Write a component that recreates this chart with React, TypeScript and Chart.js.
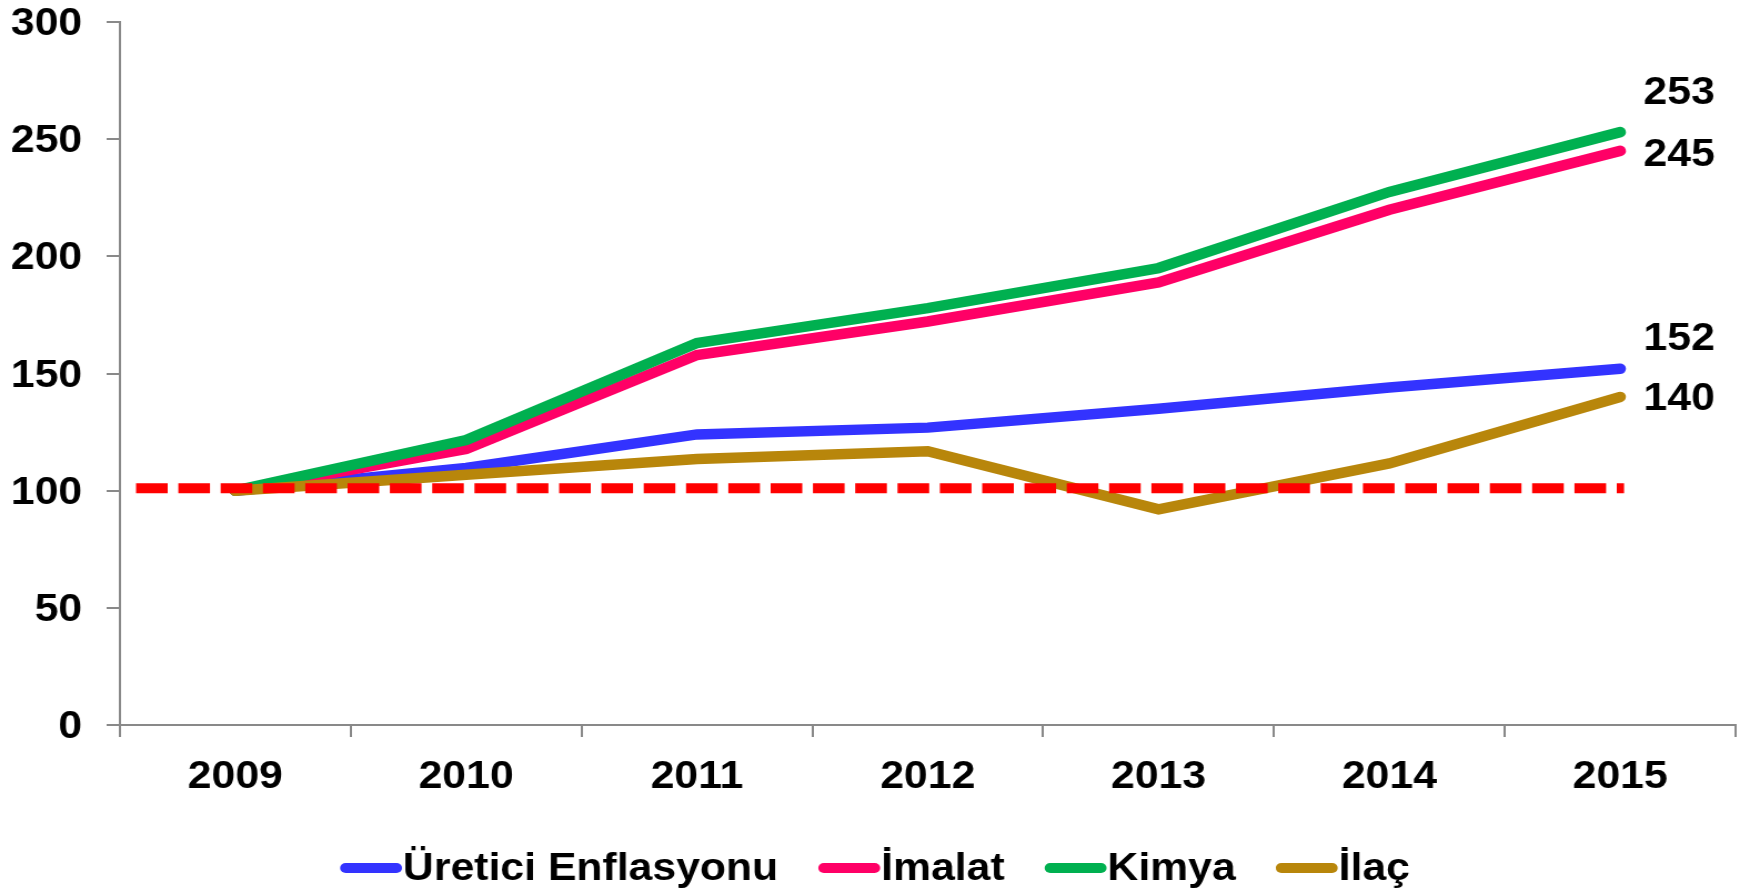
import React, { useEffect, useRef } from 'react';
import { Chart, registerables } from 'chart.js';

Chart.register(...registerables);

// ---- data ----
const years = ['2009', '2010', '2011', '2012', '2013', '2014', '2015'];
const ureticiEnflasyonu = [100, 109.7, 124, 126.9, 135, 144, 152];
const imalat = [100, 117.8, 157.9, 172.2, 188.9, 219.9, 245];
const kimya = [100, 121.6, 163, 177.9, 195, 227.5, 253];
const ilac = [100, 106.8, 113.5, 116.8, 92, 111.6, 140];
const seriesNames = ['Üretici Enflasyonu', 'İmalat', 'Kimya', 'İlaç'];
const referenceLevel = 101;
const yMin = 0;
const yMax = 300;
const yStep = 50;

// ---- styles ----
const seriesColors = ['#3333FF', '#FF0066', '#00B050', '#B8860B'];
const endLabelDy = [-29, 5, -39, 2];
const FONT_FAMILY = '"Liberation Sans", Arial, sans-serif';
const FONT_SIZE = 38.5;
const AXIS_COLOR = '#898989';
const CANVAS_W = 1576;
const CANVAS_H = 893;
const SCALE_X = 1750 / CANVAS_W;

const referenceLinePlugin = {
  id: 'referenceLine',
  afterDatasetsDraw(chart: any) {
    const { ctx, chartArea, scales } = chart;
    const y = scales.y.getPixelForValue(referenceLevel);
    const x0 = chartArea.left + 14.5;
    const x1 = scales.x.getPixelForValue(years.length - 1) + 3.5;
    ctx.save();
    ctx.strokeStyle = '#FF0000';
    ctx.lineWidth = 10;
    ctx.lineCap = 'butt';
    ctx.setLineDash([28.5, 9.6]);
    ctx.beginPath();
    ctx.moveTo(x0, y);
    ctx.lineTo(x1, y);
    ctx.stroke();
    ctx.restore();
  },
};

const endLabelPlugin = {
  id: 'endLabels',
  afterDatasetsDraw(chart: any) {
    const { ctx } = chart;
    ctx.save();
    ctx.font = `bold ${FONT_SIZE}px ${FONT_FAMILY}`;
    ctx.fillStyle = '#000';
    ctx.textAlign = 'left';
    ctx.textBaseline = 'middle';
    chart.data.datasets.forEach((ds: any, i: number) => {
      const meta = chart.getDatasetMeta(i);
      const pt = meta.data[meta.data.length - 1];
      const v = ds.data[ds.data.length - 1];
      ctx.fillText(String(Math.round(v)), pt.x + 21, pt.y + endLabelDy[i]);
    });
    ctx.restore();
  },
};

const legendPlugin = {
  id: 'customLegend',
  afterDraw(chart: any) {
    const { ctx, width } = chart;
    const lineLen = 55.8;
    const gap = 0.8;
    const itemGap = 36;
    const yc = 869;
    ctx.save();
    ctx.font = `bold ${FONT_SIZE}px ${FONT_FAMILY}`;
    const widths = seriesNames.map((n) => ctx.measureText(n).width);
    let total = 0;
    widths.forEach((w, i) => {
      total += lineLen + gap + w + (i < widths.length - 1 ? itemGap : 0);
    });
    let x = (width - total) / 2;
    ctx.textAlign = 'left';
    ctx.textBaseline = 'middle';
    seriesNames.forEach((n, i) => {
      ctx.strokeStyle = seriesColors[i];
      ctx.lineWidth = 10;
      ctx.lineCap = 'round';
      ctx.beginPath();
      ctx.moveTo(x + 5, yc - 1);
      ctx.lineTo(x + lineLen - 5, yc - 1);
      ctx.stroke();
      ctx.fillStyle = '#000';
      ctx.fillText(n, x + lineLen + gap, yc);
      x += lineLen + gap + widths[i] + itemGap;
    });
    ctx.restore();
  },
};

export default function App() {
  const canvasRef = useRef<HTMLCanvasElement | null>(null);

  useEffect(() => {
    if (!canvasRef.current) return;
    const seriesData = [ureticiEnflasyonu, imalat, kimya, ilac];
    const chart = new Chart(canvasRef.current, {
      type: 'line',
      data: {
        labels: years,
        datasets: seriesData.map((d, i) => ({
          label: seriesNames[i],
          data: d,
          borderColor: seriesColors[i],
          backgroundColor: seriesColors[i],
          borderWidth: 10.5,
          borderCapStyle: 'round',
          borderJoinStyle: 'miter',
          pointRadius: 0,
          pointHoverRadius: 0,
          tension: 0,
          fill: false,
          order: seriesData.length - i,
        })),
      },
      options: {
        responsive: false,
        animation: false,
        devicePixelRatio: 1,
        events: [],
        layout: { padding: { top: 0, right: 13, bottom: 0, left: 0 } },
        plugins: {
          legend: { display: false },
          tooltip: { enabled: false },
          title: { display: false },
        },
        scales: {
          x: {
            type: 'category',
            offset: true,
            afterFit(scale: any) {
              scale.height = 168;
            },
            grid: {
              offset: true,
              drawOnChartArea: false,
              drawTicks: true,
              tickLength: 12,
              color: AXIS_COLOR,
              lineWidth: 2,
            },
            border: { display: true, color: AXIS_COLOR, width: 2 },
            ticks: {
              color: '#000',
              padding: 17,
              maxRotation: 0,
              autoSkip: false,
              font: { family: FONT_FAMILY, size: FONT_SIZE, weight: 'bold', lineHeight: 1.2 },
            },
          },
          y: {
            min: yMin,
            max: yMax,
            afterFit(scale: any) {
              scale.width = 108;
              scale.paddingTop = 22;
              scale.paddingBottom = 0;
            },
            grid: {
              drawOnChartArea: false,
              drawTicks: true,
              tickLength: 12,
              color: AXIS_COLOR,
              lineWidth: 2,
            },
            border: { display: true, color: AXIS_COLOR, width: 2 },
            ticks: {
              stepSize: yStep,
              color: '#000',
              padding: 22,
              labelOffset: 2.5,
              font: { family: FONT_FAMILY, size: FONT_SIZE, weight: 'bold', lineHeight: 1 },
            },
          },
        },
      },
      plugins: [referenceLinePlugin, endLabelPlugin, legendPlugin],
    } as any);
    return () => chart.destroy();
  }, []);

  return (
    <div
      style={{
        position: 'absolute',
        left: 0,
        top: 0,
        width: 1750,
        height: 893,
        overflow: 'hidden',
        background: '#fff',
      }}
    >
      <canvas
        ref={canvasRef}
        width={CANVAS_W}
        height={CANVAS_H}
        style={{
          display: 'block',
          transform: `scaleX(${SCALE_X})`,
          transformOrigin: '0 0',
        }}
      />
    </div>
  );
}
